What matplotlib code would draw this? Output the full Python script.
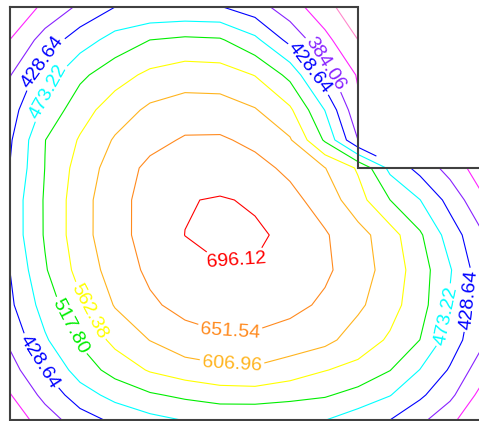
import numpy as np
import matplotlib
matplotlib.use("Agg")
import matplotlib.pyplot as plt

plt.rcParams['font.family'] = ['Liberation Sans', 'DejaVu Sans']

H = 421  # picture height, positions below are measured from the top

# grid node positions (picture units, y measured from the top)
x_nodes = [10, 45, 80, 115, 150, 185, 220, 255, 290, 325, 358, 390, 420, 450, 486]
y_nodes = [7, 40, 75, 110, 140, 168, 200, 235, 270, 305, 340, 370, 395, 420]

nan = np.nan
# field values, one row per y node (nan = notch)
row_007 = [305, 348.7, 392.4, 428.6, 431, 433, 431, 403.2, 360, 310.8, 262, nan, nan, nan, nan]
row_040 = [340, 403.2, 452, 490.1, 518, 527, 523, 484, 415, 352.5, 295, nan, nan, nan, nan]
row_075 = [382, 451.9, 508.2, 544.5, 572.1, 585.4, 583.2, 561, 505.6, 400.5, 335, nan, nan, nan, nan]
row_110 = [409.5, 484.9, 544.5, 584.2, 615.7, 628.2, 627.3, 610.2, 569.8, 472, 348, nan, nan, nan, nan]
row_140 = [423, 517, 566.6, 611.5, 637.9, 656, 656.9, 641.9, 611.3, 511.4, 384, nan, nan, nan, nan]
row_168 = [430, 518.5, 580.5, 627.9, 662.1, 673.8, 675.5, 664.5, 642.6, 608, 557, 461.7, 413.8, 367.6, 308]
row_200 = [444, 522.3, 588.5, 637.6, 667, 694, 699, 692, 663.9, 632.8, 579.7, 518, 474, 413.3, 340]
row_235 = [444, 522, 588.8, 637.5, 667.3, 696.5, 703, 701, 689, 655.7, 623.5, 581.5, 524.2, 453, 381]
row_270 = [429, 513.4, 578.1, 627.2, 660.4, 682, 694, 694, 682, 659, 628.4, 588.3, 539.3, 477, 393]
row_305 = [420, 492.1, 554.5, 610, 644.6, 664.8, 669, 670.1, 663.8, 644.1, 615.4, 578.8, 536.3, 469, 393]
row_340 = [394, 467.4, 523.3, 574.8, 608, 634, 645.8, 644.6, 632.2, 618.8, 586.1, 556.3, 517.4, 452.3, 385]
row_370 = [364.6, 431.3, 493.1, 534.1, 566.7, 586.7, 595.8, 600.3, 585.2, 564, 549.4, 519, 472, 424.2, 349.7]
row_395 = [337, 397, 452.7, 488, 512.3, 526.7, 541.3, 542.3, 532.3, 522.4, 502.3, 475, 436.6, 395.2, 314.7]
row_420 = [310, 361.8, 407.9, 438.2, 460, 475, 476, 476, 476, 474, 449, 428.6, 395.2, 351, 292]

levels = [294.90, 339.48, 384.06, 428.64, 473.22, 517.80, 562.38, 606.96, 651.54, 696.12]
line_colors = ['#FF88CC', '#FF22FF', '#8822FF', '#0000FF', '#00FFFF',
               '#00EE00', '#FFFF00', '#FFB41E', '#FF8A1E', '#FF0000']

# L-shaped domain outline
outline_x = [10, 358, 358, 486, 486, 10, 10]
outline_y = [7, 7, 168, 168, 420, 420, 7]

# label spots (level, position)
label_spots = [
    (384.06, (322, 66)),
    (428.64, (310, 68)),
    (428.64, (42, 62)),
    (473.22, (48, 92)),
    (562.38, (86, 313)),
    (517.80, (66, 328)),
    (428.64, (39, 362)),
    (696.12, (236, 260)),
    (651.54, (230, 334)),
    (606.96, (232, 365)),
    (473.22, (449, 316)),
    (428.64, (470, 300)),
]

Z = np.array([row_007, row_040, row_075, row_110, row_140, row_168, row_200,
              row_235, row_270, row_305, row_340, row_370, row_395, row_420])
Z = np.ma.masked_invalid(Z[::-1])
yy = [H - y for y in y_nodes][::-1]

fig = plt.figure(figsize=(4.79, 4.21), dpi=100)
ax = fig.add_axes([0, 0, 1, 1])

for lev, col in zip(levels, line_colors):
    cs = ax.contour(x_nodes, yy, Z, levels=[lev], colors=[col],
                    linewidths=0.8)
    spots = [(px, H - py) for l, (px, py) in label_spots if l == lev]
    if spots:
        ax.clabel(cs, manual=spots, inline=True, fmt='%.2f',
                  fontsize=14, inline_spacing=3)

ax.plot(outline_x, [H - y for y in outline_y], color='#404040', lw=1.5,
        solid_joinstyle='miter')

ax.set_xlim(0, 479)
ax.set_ylim(0, H)
ax.axis('off')

fig.savefig('out.png', dpi=100)
